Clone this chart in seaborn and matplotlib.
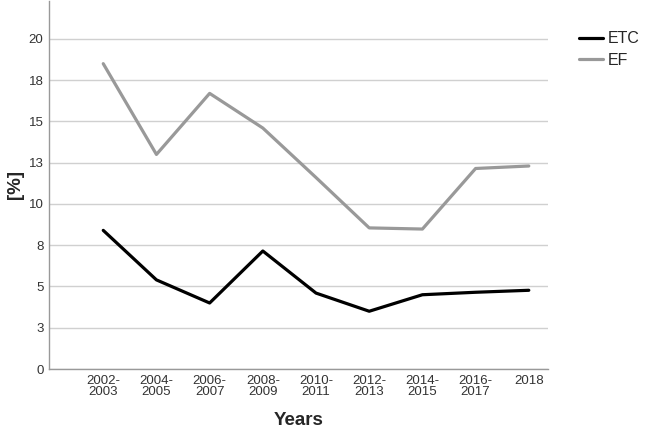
import pandas as pd
import seaborn as sns
import matplotlib.pyplot as plt

# data
years = ['2002-\n2003', '2004-\n2005', '2006-\n2007', '2008-\n2009', '2010-\n2011',
         '2012-\n2013', '2014-\n2015', '2016-\n2017', '2018']
etc = [8.4, 5.4, 4.0, 7.15, 4.6, 3.5, 4.5, 4.65, 4.77]
ef = [18.5, 13.0, 16.7, 14.6, 11.6, 8.55, 8.48, 12.15, 12.3]
ytick_vals = [0, 2.5, 5, 7.5, 10, 12.5, 15, 17.5, 20]
ytick_labels = ['0', '3', '5', '8', '10', '13', '15', '18', '20']

df = pd.DataFrame({'Years': years * 2, 'value': etc + ef,
                   'group': ['ETC'] * len(years) + ['EF'] * len(years)})
df['x'] = list(range(len(years))) * 2

sns.set_style('white')
plt.rcParams['font.family'] = ['Liberation Sans', 'DejaVu Sans']

fig = plt.figure(figsize=(6.48, 4.32), dpi=100)
ax = fig.add_axes([0.0756, 0.1458, 0.77, 0.852])

sns.lineplot(data=df, x='x', y='value', hue='group', palette={'ETC': 'black', 'EF': '#999999'},
             linewidth=2.3, ax=ax)

ax.set_xlim(-1.02, 8.36)
ax.set_ylim(0, 22.3)
ax.set_xticks(range(len(years)))
ax.set_xticklabels(years, fontsize=9.5, color='#333333', linespacing=0.95)
ax.set_yticks(ytick_vals)
ax.set_yticklabels(ytick_labels, fontsize=9.5, color='#333333')
ax.tick_params(axis='both', length=0, pad=4)
ax.yaxis.grid(True, color='#d0d0d0', linewidth=1)
ax.set_axisbelow(True)
for s in ['top', 'right']:
    ax.spines[s].set_visible(False)
for s in ['left', 'bottom']:
    ax.spines[s].set_color('#999999')
    ax.spines[s].set_linewidth(1)

ax.set_xlabel('Years', fontsize=13.5, fontweight='bold', labelpad=10)
ax.set_ylabel('[%]', fontsize=13.5, fontweight='bold', labelpad=3)

leg = ax.legend(title=None, loc='upper left', bbox_to_anchor=(1.05, 0.935), frameon=False,
                fontsize=11.5, handlelength=1.5, handletextpad=0.3, labelspacing=0.4,
                borderaxespad=0)
for line in leg.get_lines():
    line.set_linewidth(2.3)

plt.savefig('out.png', dpi=100)
